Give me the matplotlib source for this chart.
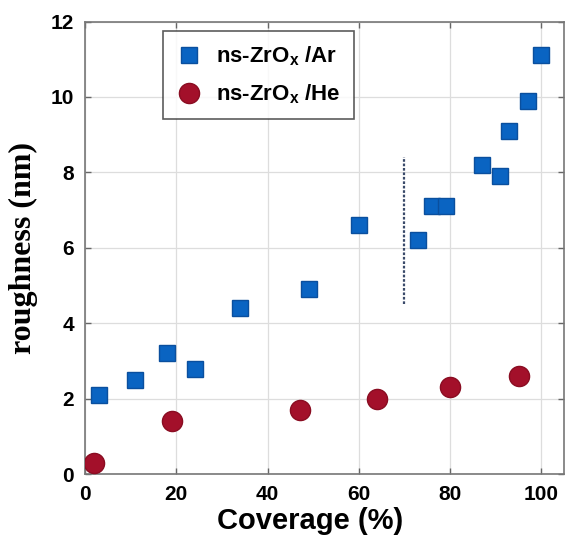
import matplotlib
matplotlib.use("Agg")
import matplotlib.pyplot as plt
from matplotlib.lines import Line2D

# roughness vs. coverage for the two deposition gases
ar_coverage = [3, 11, 18, 24, 34, 49, 60, 73, 76, 79, 87, 91, 93, 97, 100]
ar_roughness = [2.1, 2.5, 3.2, 2.8, 4.4, 4.9, 6.6, 6.2, 7.1, 7.1, 8.2, 7.9, 9.1, 9.9, 11.1]
ar_err = [0.1, 0.1, 0.15, 0.1, 0.1, 0.1, 0.1, 0.15, 0.1, 0.1, 0.15, 0.1, 0.1, 0.1, 0.15]

he_coverage = [2, 19, 47, 64, 80, 95]
he_roughness = [0.3, 1.4, 1.7, 2.0, 2.3, 2.6]
he_err = [0.1, 0.1, 0.1, 0.1, 0.1, 0.1]

labels = [r"ns-ZrO$_\mathbf{x}$ /Ar", r"ns-ZrO$_\mathbf{x}$ /He"]

# threshold marker
thresh_x = 70
thresh_y = [4.5, 8.4]

blue = "#0a64c2"
red = "#a3102a"

plt.rcParams["font.family"] = "Liberation Sans"
plt.rcParams["font.weight"] = "bold"
plt.rcParams["mathtext.fontset"] = "custom"
plt.rcParams["mathtext.rm"] = "Liberation Sans:bold"
plt.rcParams["mathtext.bf"] = "Liberation Sans:bold"

fig = plt.figure(figsize=(5.67, 5.52), dpi=100)
ax = fig.add_axes([0.150, 0.141, 0.845, 0.820])

ar_style = dict(marker="s", ms=11.5, mfc=blue, mec="#0a4f9e", mew=1.0)
he_style = dict(marker="o", ms=14.5, mfc=red, mec="#8a0d22", mew=1.0)

ax.errorbar(ar_coverage, ar_roughness, yerr=ar_err, ls="none", **ar_style,
            ecolor="#123a6e", elinewidth=1.0, capsize=2, capthick=1.0, zorder=3)
ax.errorbar(he_coverage, he_roughness, yerr=he_err, ls="none", **he_style,
            ecolor="#5a0a18", elinewidth=1.0, capsize=2, capthick=1.0, zorder=3)

ax.plot([thresh_x, thresh_x], thresh_y, color="#3a4a6a", lw=1.6,
        linestyle=(0, (1.2, 0.8)), zorder=2)

ax.set_xlim(0, 105)
ax.set_ylim(0, 12)
ax.set_xticks([0, 20, 40, 60, 80, 100])
ax.set_yticks([0, 2, 4, 6, 8, 10, 12])
ax.grid(True, color="#dddddd", lw=0.9)
ax.set_axisbelow(True)
ax.tick_params(direction="in", top=True, right=True, length=4, width=1,
               color="#666666", labelsize=15, pad=8)
for lab in ax.get_xticklabels() + ax.get_yticklabels():
    lab.set_fontweight("bold")
for sp in ax.spines.values():
    sp.set_color("#777777")
    sp.set_linewidth(1.2)

ax.set_xlabel("Coverage (%)", fontsize=21, fontweight="bold")
ax.xaxis.set_label_coords(0.47, -0.072)
ax.set_ylabel("roughness (nm)", fontsize=23, fontweight="bold",
              family="Liberation Serif", labelpad=9)

handles = [Line2D([], [], ls="none", **ar_style),
           Line2D([], [], ls="none", **he_style)]
leg = ax.legend(handles, labels, loc="upper left", bbox_to_anchor=(0.163, 0.979),
                fontsize=16, frameon=True, fancybox=False, edgecolor="#333333",
                handlelength=1.1, handletextpad=0.7, borderpad=0.6,
                labelspacing=0.65, borderaxespad=0)
leg.get_frame().set_linewidth(1.2)
for t in leg.get_texts():
    t.set_fontweight("bold")

fig.savefig("out.png", dpi=100)
